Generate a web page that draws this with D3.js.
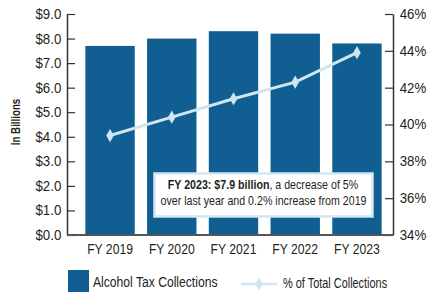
<!DOCTYPE html>
<html>
<head>
<meta charset="utf-8">
<script src="https://cdn.jsdelivr.net/npm/d3@7"></script>
<style>
  body { margin: 0; background: #fff; }
  text { font-family: "Liberation Sans", Arial, sans-serif; fill: #231f20; }
</style>
</head>
<body>
<div id="chart"></div>
<script>
// data
const YEARS = ['FY 2019', 'FY 2020', 'FY 2021', 'FY 2022', 'FY 2023'];
const TAX = [7.7, 8.0, 8.3, 8.2, 7.8];          // billions
const PCT = [39.4, 40.4, 41.4, 42.3, 43.9];     // % of total collections
const LEFT_TICKS = [0, 1, 2, 3, 4, 5, 6, 7, 8, 9];
const RIGHT_TICKS = [34, 36, 38, 40, 42, 44, 46];

// constants
const FRAME_WIDTH = 430;
const FRAME_HEIGHT = 294;
const AXIS_L = 67;
const AXIS_R = 393;
const TOP = 14;
const BOTTOM = 235;
const BAR_COLOR = '#115f92';
const LINE_COLOR = '#cfe6f1';
const AXIS_COLOR = '#333';

let svg = d3.select('#chart')
            .append('svg')
            .attr('width', FRAME_WIDTH)
            .attr('height', FRAME_HEIGHT);

let xScale = d3.scaleBand()
               .domain(YEARS)
               .range([73, 394])
               .paddingInner(0.2)
               .paddingOuter(0.2);

let yLeft = d3.scaleLinear().domain([0, 9]).range([BOTTOM, TOP]);
let yRight = d3.scaleLinear().domain([34, 46]).range([BOTTOM, TOP]);

// bars
svg.selectAll('rect.bar')
   .data(TAX)
   .enter()
   .append('rect')
   .attr('class', 'bar')
   .attr('x', (d, i) => xScale(YEARS[i]))
   .attr('y', d => yLeft(d))
   .attr('width', xScale.bandwidth())
   .attr('height', d => BOTTOM - yLeft(d))
   .attr('fill', BAR_COLOR);

// left axis
let leftAxis = svg.append('g')
   .attr('transform', 'translate(' + AXIS_L + ',0)')
   .call(d3.axisLeft(yLeft).tickValues(LEFT_TICKS)
           .tickFormat(d => '$' + d.toFixed(1))
           .tickSizeInner(-8).tickSizeOuter(0).tickPadding(6));

// right axis
let rightAxis = svg.append('g')
   .attr('transform', 'translate(' + AXIS_R + ',0)')
   .call(d3.axisRight(yRight).tickValues(RIGHT_TICKS)
           .tickFormat(d => d + '%')
           .tickSizeInner(-8).tickSizeOuter(0).tickPadding(7));

[leftAxis, rightAxis].forEach(g => {
    g.select('.domain').attr('stroke', AXIS_COLOR).attr('stroke-width', 1.5);
    g.selectAll('.tick line').attr('stroke', AXIS_COLOR).attr('stroke-width', 1.2);
    g.selectAll('.tick text').attr('font-size', '14px').attr('fill', '#231f20')
     .style('font-family', '"Liberation Sans", Arial, sans-serif')
     .attr('transform', 'scale(0.95,1)');
});

// bottom axis
let bottomAxis = svg.append('g')
   .attr('transform', 'translate(0,' + BOTTOM + ')')
   .call(d3.axisBottom(xScale).tickSize(0).tickPadding(9));
bottomAxis.select('.domain')
   .attr('d', 'M' + AXIS_L + ',0H' + AXIS_R)
   .attr('stroke', '#555').attr('stroke-width', 2);
bottomAxis.selectAll('.tick text').attr('font-size', '14px').attr('fill', '#231f20')
   .style('font-family', '"Liberation Sans", Arial, sans-serif')
   .attr('transform', 'scale(0.87,1)');

// y label
svg.append('text')
   .attr('transform', 'translate(20,122) rotate(-90) scale(0.78,1)')
   .attr('text-anchor', 'middle')
   .attr('font-size', '12.5px')
   .attr('font-weight', 'bold')
   .text('In Billions');

// percentage line
let line = d3.line()
             .x((d, i) => xScale(YEARS[i]) + xScale.bandwidth() / 2)
             .y(d => yRight(d));

svg.append('path')
   .datum(PCT)
   .attr('d', line)
   .attr('fill', 'none')
   .attr('stroke', LINE_COLOR)
   .attr('stroke-width', 3);

let diamond = d3.symbol().type(d3.symbolDiamond).size(50);
svg.selectAll('path.marker')
   .data(PCT)
   .enter()
   .append('path')
   .attr('class', 'marker')
   .attr('d', diamond)
   .attr('transform', (d, i) => 'translate(' + (xScale(YEARS[i]) + xScale.bandwidth() / 2) + ',' + yRight(d) + ')')
   .attr('fill', LINE_COLOR);

// annotation box
svg.append('rect')
   .attr('x', 154.5)
   .attr('y', 173.5)
   .attr('width', 218)
   .attr('height', 43)
   .attr('fill', '#fff')
   .attr('stroke', '#d3e8f2')
   .attr('stroke-width', 2.5);

let note1 = svg.append('text')
   .attr('transform', 'translate(263,189) scale(0.82,1)')
   .attr('text-anchor', 'middle')
   .attr('font-size', '13px');
note1.append('tspan').attr('font-weight', 'bold').text('FY 2023: $7.9 billion');
note1.append('tspan').text(', a decrease of 5%');

svg.append('text')
   .attr('transform', 'translate(263.5,205) scale(0.82,1)')
   .attr('text-anchor', 'middle')
   .attr('font-size', '13px')
   .text('over last year and 0.2% increase from 2019');

// legend
svg.append('rect')
   .attr('x', 68)
   .attr('y', 270)
   .attr('width', 21)
   .attr('height', 22)
   .attr('fill', BAR_COLOR);
svg.append('text')
   .attr('transform', 'translate(93,287) scale(0.81,1)')
   .attr('font-size', '15px')
   .text('Alcohol Tax Collections');

svg.append('line')
   .attr('x1', 241).attr('x2', 277)
   .attr('y1', 284).attr('y2', 284)
   .attr('stroke', LINE_COLOR)
   .attr('stroke-width', 2.5);
svg.append('path')
   .attr('d', diamond)
   .attr('transform', 'translate(259,284)')
   .attr('fill', LINE_COLOR);
svg.append('text')
   .attr('transform', 'translate(283,288) scale(0.78,1)')
   .attr('font-size', '14px')
   .text('% of Total Collections');
</script>
</body>
</html>
